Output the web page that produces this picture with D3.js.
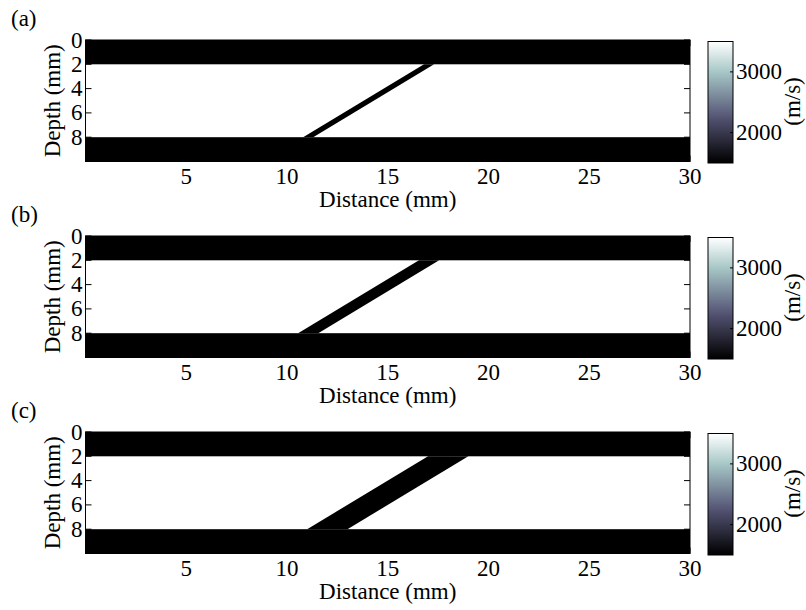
<!DOCTYPE html>
<html>
<head>
<meta charset="utf-8">
<script src="https://cdn.jsdelivr.net/npm/d3@7"></script>
<style>
  body { margin: 0; background: #fff; }
  svg { display: block; }
</style>
</head>
<body>
<svg id="chart" width="806" height="610"></svg>
<script>
// Velocity models: two horizontal slow layers joined by a dipping slow layer of increasing width
const panelLabels = ["(a)", "(b)", "(c)"];
const xTicks = [5, 10, 15, 20, 25, 30];
const yTicks = [0, 2, 4, 6, 8];
const cbTicks = [2000, 3000];

const xDomain = [0, 30];          // distance (mm)
const yDomain = [0, 10];          // depth (mm)
const vDomain = [1500, 3500];     // velocity (m/s)

const backgroundVelocity = 3500;
const layerVelocity = 1500;
const topLayer = [0, 2];          // depth range (mm)
const bottomLayer = [8, 10];      // depth range (mm)

// Dipping layer: left edge at the base (8 mm) and at the top (2 mm), and its horizontal width
const dipDepths = [8, 2];
const dipLeftBase = [10.8, 10.55, 11.0];
const dipLeftTop = [16.8, 16.55, 17.0];
const dipWidth = [0.5, 1.0, 2.0];

// MATLAB-style "bone" colormap
const bone = d3.scaleLinear()
  .domain([0, 0.375, 0.75, 1])
  .range(["rgb(0,0,0)", "rgb(84,84,116)", "rgb(167,199,199)", "rgb(255,255,255)"])
  .interpolate(d3.interpolateRgb);
const vNorm = d3.scaleLinear().domain(vDomain).range([0, 1]);
const color = v => bone(vNorm(v));

const FONT = '"Liberation Serif", "Times New Roman", Tinos, serif';
const fs = 23;

const svg = d3.select("#chart");
const plotLeft = 85.5, plotRight = 690, plotH = 121.5;
const panelTops = [40, 236, 432];
const cbLeft = 708, cbW = 25;

const defs = svg.append("defs");
const grad = defs.append("linearGradient").attr("id", "cbgrad")
  .attr("x1", 0).attr("y1", 1).attr("x2", 0).attr("y2", 0);
d3.range(0, 1.0001, 0.05).forEach(t => {
  grad.append("stop").attr("offset", t).attr("stop-color", bone(t));
});

const x = d3.scaleLinear().domain(xDomain).range([plotLeft, plotRight]);

function label(sel) {
  return sel.style("font-family", FONT).style("font-size", fs + "px").attr("fill", "#000");
}

panelLabels.forEach((lab, i) => {
  const top = panelTops[i];
  const y = d3.scaleLinear().domain(yDomain).range([top, top + plotH]);
  const g = svg.append("g");

  g.append("clipPath").attr("id", "clip" + i)
    .append("rect").attr("x", plotLeft).attr("y", top)
    .attr("width", plotRight - plotLeft).attr("height", plotH);

  const img = g.append("g").attr("clip-path", `url(#clip${i})`);
  img.append("rect")
    .attr("x", x(xDomain[0])).attr("y", y(yDomain[0]))
    .attr("width", x(xDomain[1]) - x(xDomain[0]))
    .attr("height", y(yDomain[1]) - y(yDomain[0]))
    .attr("fill", color(backgroundVelocity));

  [topLayer, bottomLayer].forEach(L => {
    img.append("rect")
      .attr("x", x(xDomain[0])).attr("y", y(L[0]))
      .attr("width", x(xDomain[1]) - x(xDomain[0]))
      .attr("height", y(L[1]) - y(L[0]))
      .attr("fill", color(layerVelocity));
  });

  const pts = [
    [dipLeftBase[i], dipDepths[0]],
    [dipLeftBase[i] + dipWidth[i], dipDepths[0]],
    [dipLeftTop[i] + dipWidth[i], dipDepths[1]],
    [dipLeftTop[i], dipDepths[1]]
  ];
  img.append("path")
    .attr("d", d3.line().x(d => x(d[0])).y(d => y(d[1]))(pts) + "Z")
    .attr("fill", color(layerVelocity));

  // axes box with inward ticks
  const tickLen = 6;
  const ax = g.append("g").attr("stroke", "#000").attr("stroke-width", 1);
  ax.append("rect").attr("x", plotLeft).attr("y", top)
    .attr("width", plotRight - plotLeft).attr("height", plotH)
    .attr("fill", "none");
  yTicks.forEach(t => {
    ax.append("line").attr("x1", plotLeft).attr("x2", plotLeft + tickLen)
      .attr("y1", y(t)).attr("y2", y(t));
    ax.append("line").attr("x1", plotRight).attr("x2", plotRight - tickLen)
      .attr("y1", y(t)).attr("y2", y(t));
  });
  xTicks.forEach(t => {
    ax.append("line").attr("x1", x(t)).attr("x2", x(t))
      .attr("y1", top + plotH).attr("y2", top + plotH - tickLen);
    ax.append("line").attr("x1", x(t)).attr("x2", x(t))
      .attr("y1", top).attr("y2", top + tickLen);
  });

  g.selectAll(".yt").data(yTicks).enter().append("text")
    .attr("x", plotLeft - 3).attr("y", d => y(d))
    .attr("dy", "0.33em").attr("text-anchor", "end")
    .call(label).text(d => d);
  g.selectAll(".xt").data(xTicks).enter().append("text")
    .attr("x", d => x(d)).attr("y", top + plotH + 22)
    .attr("text-anchor", "middle").call(label).text(d => d);

  g.append("text").attr("x", (plotLeft + plotRight) / 2).attr("y", top + plotH + 45)
    .attr("text-anchor", "middle").call(label).text("Distance (mm)");
  g.append("text")
    .attr("transform", `translate(60,${top + plotH / 2}) rotate(-90)`)
    .attr("text-anchor", "middle").call(label).text("Depth (mm)");
  g.append("text").attr("x", 11).attr("y", top - 14)
    .call(label).text(lab);

  // colorbar
  const cbTop = top + 1.5;
  const cy = d3.scaleLinear().domain(vDomain).range([cbTop + plotH, cbTop]);
  g.append("rect").attr("x", cbLeft).attr("y", cbTop)
    .attr("width", cbW).attr("height", plotH)
    .attr("fill", "url(#cbgrad)").attr("stroke", "#000").attr("stroke-width", 1);
  cbTicks.forEach(t => {
    g.append("line").attr("x1", cbLeft + cbW).attr("x2", cbLeft + cbW - 3)
      .attr("y1", cy(t)).attr("y2", cy(t)).attr("stroke", "#000");
  });
  g.selectAll(".ct").data(cbTicks).enter().append("text")
    .attr("x", cbLeft + cbW + 3).attr("y", d => cy(d))
    .attr("dy", "0.33em").call(label).text(d => d);
  g.append("text")
    .attr("transform", `translate(800,${cbTop + 60}) rotate(-90)`)
    .attr("text-anchor", "middle").call(label).text("(m/s)");
});
</script>
</body>
</html>
